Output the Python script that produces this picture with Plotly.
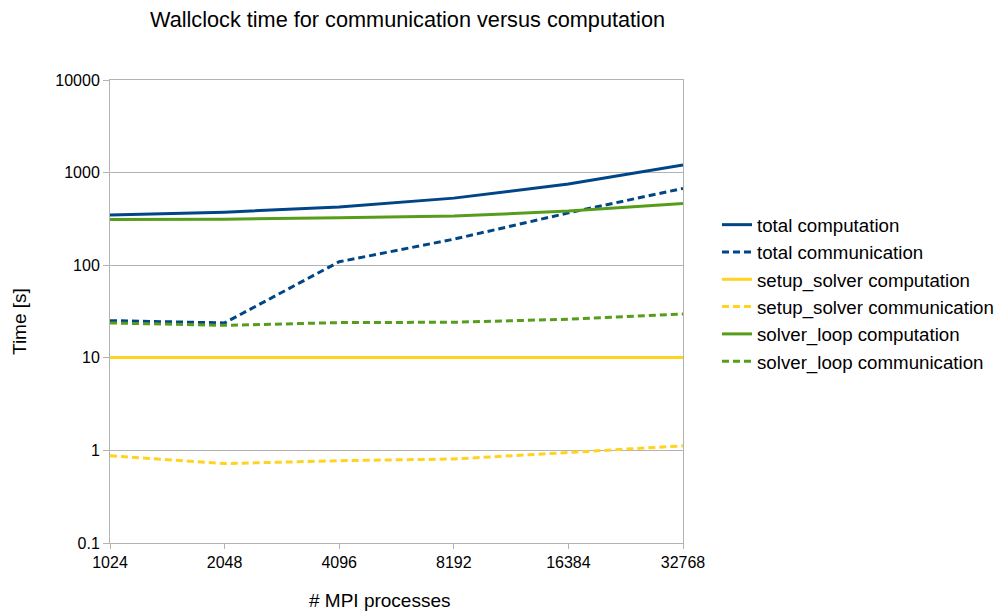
import math
import plotly.graph_objects as go

processes = [1024, 2048, 4096, 8192, 16384, 32768]
tick_labels = ["1024", "2048", "4096", "8192", "16384", "32768"]

total_computation = [348, 374, 424, 530, 752, 1205]
total_communication = [25.2, 23.8, 109, 191, 367, 675]
setup_solver_computation = [10.1, 10.1, 10.1, 10.1, 10.1, 10.1]
setup_solver_communication = [0.877, 0.72, 0.774, 0.807, 0.95, 1.12]
solver_loop_computation = [312, 314, 326, 339, 384, 464]
solver_loop_communication = [23.8, 22.4, 24.0, 24.2, 26.1, 29.8]

y_tickvals = [0.1, 1, 10, 100, 1000, 10000]
y_ticktext = ["0.1", "1", "10", "100", "1000", "10000"]

BLUE = "#004586"
YELLOW = "#ffd320"
GREEN = "#579d1c"
GRID = "#b3b3b3"
FONT = "Liberation Sans, Arial, sans-serif"

# page has an 8px body margin; figure coordinates are page coordinates - 8
W, H = 996, 603
L, R, T, B = 102, 675, 72, 535
PW, PH = R - L, B - T

series = [
    ("total computation", total_computation, BLUE, "solid"),
    ("total communication", total_communication, BLUE, "7px,4px"),
    ("setup_solver computation", setup_solver_computation, YELLOW, "solid"),
    ("setup_solver communication", setup_solver_communication, YELLOW, "7px,4px"),
    ("solver_loop computation", solver_loop_computation, GREEN, "solid"),
    ("solver_loop communication", solver_loop_communication, GREEN, "7px,4px"),
]

fig = go.Figure()
for name, ys, color, dash in series:
    fig.add_trace(go.Scatter(
        x=processes, y=ys, name=name, mode="lines",
        line=dict(color=color, width=3, dash=dash),
    ))

fig.update_layout(
    width=W, height=H,
    margin=dict(l=L, r=W - R, t=T, b=H - B, pad=0),
    paper_bgcolor="white", plot_bgcolor="white",
    font=dict(family=FONT, color="#000000", size=16),
    title=dict(
        text="Wallclock time for communication versus computation",
        font=dict(size=21.7, family=FONT, color="#000000"),
        x=399.5 / W, xref="container", xanchor="center",
        y=1 - 4 / H, yref="container", yanchor="top",
    ),
    showlegend=True,
    legend=dict(
        xref="container", yref="container",
        x=709 / W, xanchor="left", y=1 - 198 / H, yanchor="top",
        font=dict(size=18.7, family=FONT, color="#000000"),
        bgcolor="rgba(0,0,0,0)", tracegroupgap=0,
    ),
    xaxis=dict(
        type="log",
        range=[math.log10(processes[0]), math.log10(processes[-1])],
        tickvals=processes, ticktext=tick_labels,
        showgrid=False, showline=True, linecolor=GRID, linewidth=1,
        mirror=True, ticks="outside", ticklen=5, tickcolor=GRID,
        tickfont=dict(size=16, family=FONT), zeroline=False,
    ),
    yaxis=dict(
        type="log", range=[-1, 4],
        tickvals=y_tickvals, ticktext=y_ticktext,
        showgrid=True, gridcolor=GRID, gridwidth=1,
        showline=True, linecolor=GRID, linewidth=1, mirror=True,
        ticks="outside", ticklen=6, tickcolor=GRID,
        tickfont=dict(size=16, family=FONT), zeroline=False,
    ),
    annotations=[
        dict(text="# MPI processes", xref="paper", yref="paper",
             x=(372 - L) / PW, y=-(592 - B) / PH,
             xanchor="center", yanchor="middle", showarrow=False,
             font=dict(size=19, family=FONT)),
        dict(text="Time [s]", xref="paper", yref="paper",
             x=-(L - 11) / PW, y=(B - 314) / PH,
             xanchor="center", yanchor="middle", showarrow=False,
             textangle=-90, font=dict(size=19, family=FONT)),
    ],
)

fig.write_html("out.html")
